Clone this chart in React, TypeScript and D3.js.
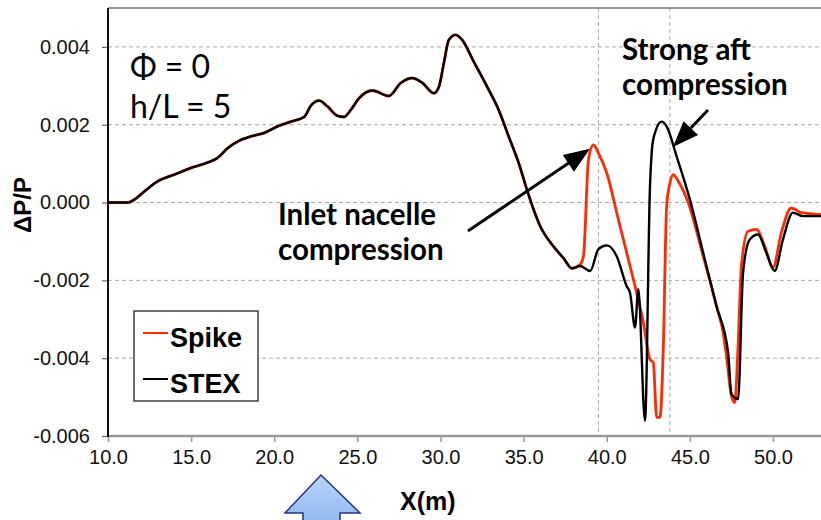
import { useEffect, useRef } from "react";
import * as d3 from "d3";

// shared part of both signatures (x in m, dP/P)
const sharedX = [10.0, 11.2, 11.6, 12.2, 13.0, 14.0, 15.0, 16.0, 16.6, 17.2, 17.8, 18.6, 19.4, 20.2, 21.0, 21.8, 22.2, 22.7, 23.2, 23.8, 24.2, 24.6, 25.1, 25.9, 26.9, 27.6, 28.3, 28.9, 29.6, 29.9, 30.2, 30.5, 30.9, 31.3, 32.0, 32.8, 33.5, 34.1, 34.7, 35.2, 35.6, 36.0, 36.8, 37.4, 37.9];
const sharedP = [0, 0, 0.00008, 0.00029, 0.00055, 0.00072, 0.00089, 0.00103, 0.00115, 0.0014, 0.00157, 0.0017, 0.00179, 0.00196, 0.00208, 0.0022, 0.00249, 0.00262, 0.00247, 0.00223, 0.0022, 0.00238, 0.00268, 0.00288, 0.00274, 0.00307, 0.0032, 0.00308, 0.00281, 0.00297, 0.00358, 0.00418, 0.00431, 0.00418, 0.00362, 0.00298, 0.00238, 0.0017, 0.00102, 0.00033, -0.00018, -0.00061, -0.00113, -0.00143, -0.00169];

const spikeX = [38.4, 38.6, 38.9, 39.2, 39.5, 40.0, 40.7, 41.4, 41.8, 42.2, 42.6, 42.8, 43.0, 43.2, 43.4, 43.6, 43.8, 44.0, 44.3, 44.9, 45.8, 46.6, 47.0, 47.2, 47.5, 47.7, 47.9, 48.1, 48.5, 49.0, 49.5, 50.0, 50.5, 51.1, 51.7, 52.9];
const spikeP = [-0.00159, -0.00138, 0.0011, 0.00148, 0.00127, 0.00076, -0.00044, -0.00163, -0.00232, -0.00308, -0.00403, -0.00411, -0.00552, -0.00552, -0.00377, -0.0001, 0.0005, 0.00072, 0.00055, 0.0, -0.00138, -0.00266, -0.00334, -0.00394, -0.00497, -0.00514, -0.00368, -0.00163, -0.00074, -0.00069, -0.00112, -0.00167, -0.00078, -0.00014, -0.00026, -0.00031];

const stexX = [38.4, 39.0, 39.5, 40.0, 40.6, 41.2, 41.4, 41.7, 41.9, 42.3, 42.6, 42.75, 42.9, 43.3, 43.6, 44.2, 45.0, 45.8, 46.6, 47.3, 47.5, 47.9, 48.2, 48.6, 49.1, 49.6, 50.1, 50.6, 51.2, 51.8, 52.9];
const stexP = [-0.00163, -0.00176, -0.0012, -0.0011, -0.00138, -0.00215, -0.00232, -0.00321, -0.00223, -0.00561, 0.0004, 0.0015, 0.00179, 0.00208, 0.00196, 0.00119, 0.00008, -0.00129, -0.00266, -0.00385, -0.00492, -0.00505, -0.0018, -0.00095, -0.00082, -0.00129, -0.00176, -0.00095, -0.00026, -0.00035, -0.00035];

const xTicks = [10, 15, 20, 25, 30, 35, 40, 45, 50];
const yTicks = [0.004, 0.002, 0, -0.002, -0.004, -0.006];
const markerX = [39.5, 43.8];

const W = 821;
const H = 520;
const RED = "#ff2a00";

export default function App() {
  const ref = useRef<SVGSVGElement>(null);

  useEffect(() => {
    const svg = d3.select(ref.current);
    svg.selectAll("*").remove();

    const left = 108, top = 8, bottom = 436;
    const x = d3.scaleLinear().domain([10, 50]).range([left, 773]);
    const y = d3.scaleLinear().domain([-0.006, 0.005]).range([bottom, top]);

    // grid
    svg.append("g").selectAll("line").data(yTicks.filter(d => d > -0.006)).join("line")
      .attr("x1", left).attr("x2", W).attr("y1", d => y(d)).attr("y2", d => y(d))
      .attr("stroke", "#a8a8a8").attr("stroke-width", 1).attr("stroke-dasharray", "4,3");
    svg.append("g").selectAll("line").data(markerX).join("line")
      .attr("x1", d => x(d)).attr("x2", d => x(d)).attr("y1", top).attr("y2", bottom)
      .attr("stroke", "#a8a8a8").attr("stroke-width", 1).attr("stroke-dasharray", "4,3");

    // frame top
    svg.append("line").attr("x1", left).attr("x2", W).attr("y1", top).attr("y2", top)
      .attr("stroke", "#333").attr("stroke-width", 1.2);

    // axes
    const xAxis = svg.append("g").attr("transform", `translate(0,${bottom})`)
      .call(d3.axisBottom(x).tickValues(xTicks).tickFormat(d3.format(".1f")).tickSize(6).tickPadding(8));
    xAxis.select(".domain").remove();
    xAxis.selectAll(".tick line").attr("stroke", "#999").attr("stroke-width", 1.5);
    xAxis.selectAll("text").attr("font-family", "Liberation Sans, Arial, sans-serif")
      .attr("font-size", 20).attr("fill", "#111");
    svg.append("line").attr("x1", left).attr("x2", W).attr("y1", bottom).attr("y2", bottom)
      .attr("stroke", "#999").attr("stroke-width", 2.5);

    const yAxis = svg.append("g").attr("transform", `translate(${left},0)`)
      .call(d3.axisLeft(y).tickValues(yTicks).tickFormat(d3.format(".3f")).tickSize(6).tickPadding(12));
    yAxis.select(".domain").remove();
    yAxis.selectAll(".tick line").attr("stroke", "#666").attr("stroke-width", 1.2);
    yAxis.selectAll("text").attr("font-family", "Liberation Sans, Arial, sans-serif")
      .attr("font-size", 20).attr("fill", "#111").text(d => d3.format(".3f")(d as number).replace("−", "-"));
    svg.append("line").attr("x1", left).attr("x2", left).attr("y1", top).attr("y2", bottom + 1)
      .attr("stroke", "#111").attr("stroke-width", 2);

    // curves
    const line = d3.line<[number, number]>()
      .x(d => x(d[0])).y(d => y(d[1])).curve(d3.curveMonotoneX);
    const shared: [number, number][] = sharedX.map((v, i) => [v, sharedP[i]]);
    const spike = shared.concat(spikeX.map((v, i) => [v, spikeP[i]] as [number, number]));
    const stex = shared.concat(stexX.map((v, i) => [v, stexP[i]] as [number, number]));

    svg.append("path").attr("d", line(spike)).attr("fill", "none")
      .attr("stroke", RED).attr("stroke-width", 2.8).attr("stroke-linejoin", "round");
    svg.append("path").attr("d", line(stex)).attr("fill", "none")
      .attr("stroke", "#000").attr("stroke-width", 2.4).attr("stroke-linejoin", "round");

    // annotation arrows
    const arrow = (x0: number, y0: number, x1: number, y1: number) => {
      const px0 = x(x0), py0 = y(y0), px1 = x(x1), py1 = y(y1);
      const a = Math.atan2(py1 - py0, px1 - px0);
      const len = 26, half = 10;
      const bx = px1 - len * Math.cos(a), by = py1 - len * Math.sin(a);
      svg.append("line").attr("x1", px0).attr("y1", py0).attr("x2", bx).attr("y2", by)
        .attr("stroke", "#000").attr("stroke-width", 3);
      const pts = [
        [px1, py1],
        [bx + half * Math.sin(a), by - half * Math.cos(a)],
        [bx - half * Math.sin(a), by + half * Math.cos(a)],
      ];
      svg.append("polygon").attr("points", pts.map(p => p.join(",")).join(" ")).attr("fill", "#000");
    };
    arrow(31.65, -0.00073, 38.99, 0.00138);
    arrow(46.09, 0.00238, 43.98, 0.00143);

    const bold = "Lato, Liberation Sans, Arial, sans-serif";
    const addText = (t: string, tx: number, ty: number, size: number, weight: string, fam = bold) =>
      svg.append("text").attr("x", tx).attr("y", ty).attr("font-size", size)
        .attr("font-weight", weight).attr("font-family", fam).attr("fill", "#000").text(t);

    addText("Inlet nacelle", 278, 225, 29.5, "bold");
    addText("compression", 278, 260, 29.5, "bold");
    addText("Strong aft", 622, 60, 29.5, "bold");
    addText("compression", 622, 95, 29.5, "bold");
    addText("Φ = 0", 130, 78, 32, "normal");
    addText("h/L = 5", 130, 118, 32, "normal");

    // legend
    const lg = svg.append("g");
    lg.append("rect").attr("x", 134).attr("y", 311).attr("width", 124).attr("height", 90)
      .attr("fill", "#fff").attr("stroke", "#111").attr("stroke-width", 1.2);
    const legendItems: [string, string][] = [["Spike", RED], ["STEX", "#000"]];
    legendItems.forEach(([name, c], i) => {
      const yy = 333 + i * 46;
      lg.append("line").attr("x1", 143).attr("x2", 168).attr("y1", yy).attr("y2", yy)
        .attr("stroke", c).attr("stroke-width", 2);
      lg.append("text").attr("x", 170).attr("y", yy + 14).attr("font-size", 27)
        .attr("font-weight", "bold").attr("font-family", "Liberation Sans, Arial, sans-serif")
        .text(name);
    });

    // axis titles
    svg.append("text").attr("transform", "translate(31,205) rotate(-90)")
      .attr("text-anchor", "middle").attr("font-size", 24).attr("font-weight", "bold")
      .attr("font-family", "Liberation Sans, Arial, sans-serif").text("ΔP/P");
    svg.append("text").attr("x", 400).attr("y", 510).attr("font-size", 25).attr("font-weight", "bold")
      .attr("font-family", "Liberation Sans, Arial, sans-serif").text("X(m)");

    // big blue arrow
    const defs = svg.append("defs");
    const g = defs.append("linearGradient").attr("id", "blueFill").attr("x1", 0).attr("x2", 0).attr("y1", 0).attr("y2", 1);
    g.append("stop").attr("offset", "0%").attr("stop-color", "#b8d4f8");
    g.append("stop").attr("offset", "100%").attr("stop-color", "#8db6ee");
    const ba = [[321, 475], [360, 513], [340, 513], [340, 530], [303, 530], [303, 513], [285, 513]];
    svg.append("polygon").attr("points", ba.map(p => p.join(",")).join(" "))
      .attr("fill", "url(#blueFill)").attr("stroke", "#27318a").attr("stroke-width", 1.5)
      .attr("stroke-linejoin", "miter");
  }, []);

  return (
    <svg ref={ref} width={W} height={H}
      style={{ position: "absolute", left: 0, top: 0, background: "#fff" }} />
  );
}
